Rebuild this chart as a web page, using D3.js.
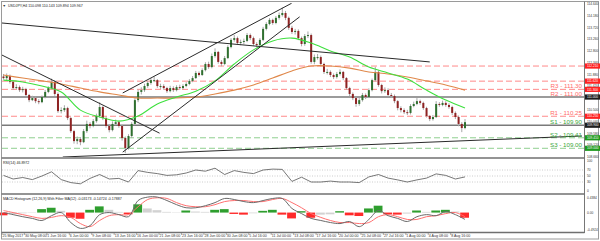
<!DOCTYPE html>
<html lang="en">
<head>
<meta charset="UTF-8" />
<title>USDJPY H4</title>
<script src="https://d3js.org/d3.v7.min.js"></script>
<style>
  body { margin: 0; background: #fff; }
  svg { display: block; font-family: Arial, "Liberation Sans", sans-serif; }
</style>
</head>
<body>
<script>
var w = 600;
var h = 241;

// price bars (each bar here = two 4H bars of the original)
var firstOpen = 111.80;
var closes = [
  111.74, 111.82, 111.59, 111.35, 111.39, 111.27, 111.31, 111.08, 110.88, 110.96,
  110.84, 110.80, 111.00, 111.20, 111.35, 111.59, 111.12, 110.45, 110.49, 110.57,
  110.18, 109.67, 109.28, 109.36, 109.24, 109.67, 109.95, 109.87, 110.06, 110.26,
  110.61, 110.18, 109.87, 109.71, 109.95, 110.02, 109.87, 109.40, 109.01, 109.48,
  109.95, 110.88, 111.20, 111.27, 111.43, 111.55, 111.66, 111.66, 111.43, 111.43,
  111.35, 111.23, 111.35, 111.27, 111.39, 111.35, 111.43, 111.51, 111.63, 111.74,
  111.94, 111.86, 112.05, 112.29, 112.17, 112.60, 112.76, 112.37, 112.29, 112.52,
  112.95, 113.23, 113.30, 113.11, 113.15, 113.19, 113.42, 113.30, 113.07, 113.03,
  113.23, 113.66, 113.85, 114.01, 113.89, 114.09, 114.20, 114.28, 114.09, 113.70,
  113.54, 113.58, 113.30, 113.07, 113.38, 113.42, 112.37, 112.56, 112.56, 112.29,
  111.98, 111.98, 111.86, 111.78, 111.90, 111.98, 111.74, 111.35, 111.12, 110.96,
  110.73, 110.88, 111.08, 111.00, 111.27, 111.66, 111.98, 111.47, 111.23, 111.27,
  111.08, 111.04, 110.84, 110.57, 110.49, 110.41, 110.38, 110.65, 110.73, 110.84,
  110.77, 110.57, 110.26, 110.14, 110.22, 110.73, 110.69, 110.77, 110.69, 110.61,
  110.38, 110.22, 109.95, 109.79, 110.02
];
var highs = [
  111.90, 111.92, 111.88, 111.64, 111.50, 111.45, 111.40, 111.36, 111.12, 111.05,
  111.02, 110.92, 111.06, 111.28, 111.42, 111.72, 111.66, 111.18, 110.60, 110.68,
  110.62, 110.22, 109.72, 109.46, 109.44, 109.75, 110.08, 110.02, 110.14, 110.35,
  110.80, 110.66, 110.24, 109.94, 110.05, 110.12, 110.08, 109.92, 109.46, 109.55,
  110.02, 110.95, 111.30, 111.38, 111.52, 111.62, 111.74, 111.80, 111.70, 111.52,
  111.50, 111.40, 111.44, 111.42, 111.46, 111.48, 111.50, 111.58, 111.70, 111.82,
  112.02, 112.00, 112.12, 112.36, 112.38, 112.70, 112.90, 112.80, 112.44, 112.60,
  113.02, 113.30, 113.42, 113.36, 113.24, 113.28, 113.50, 113.48, 113.36, 113.14,
  113.30, 113.74, 113.92, 114.08, 114.06, 114.16, 114.30, 114.49, 114.36, 114.14,
  113.78, 113.66, 113.64, 113.36, 113.46, 113.56, 113.48, 112.66, 112.68, 112.62,
  112.34, 112.10, 112.04, 111.92, 111.98, 112.08, 112.02, 111.78, 111.40, 111.18,
  111.00, 110.96, 111.16, 111.14, 111.34, 111.72, 112.18, 112.04, 111.52, 111.38,
  111.34, 111.16, 111.10, 110.88, 110.64, 110.56, 110.50, 110.72, 110.82, 110.96,
  110.90, 110.82, 110.62, 110.30, 110.30, 110.84, 110.80, 110.86, 110.84, 110.76,
  110.66, 110.44, 110.28, 110.02, 110.14
];
var lows = [
  111.68, 111.66, 111.52, 111.28, 111.30, 111.20, 111.18, 111.02, 110.80, 110.84,
  110.76, 110.72, 110.76, 110.95, 111.15, 111.30, 111.05, 110.38, 110.36, 110.42,
  110.10, 109.60, 109.18, 109.16, 109.12, 109.20, 109.60, 109.78, 109.82, 110.00,
  110.20, 110.10, 109.80, 109.62, 109.66, 109.90, 109.80, 109.30, 108.81, 108.95,
  109.40, 109.90, 110.80, 111.10, 111.20, 111.36, 111.48, 111.58, 111.36, 111.32,
  111.28, 111.16, 111.18, 111.20, 111.22, 111.28, 111.30, 111.38, 111.46, 111.58,
  111.70, 111.80, 111.82, 112.00, 112.10, 112.12, 112.54, 112.30, 112.20, 112.24,
  112.48, 112.90, 113.16, 113.04, 113.02, 113.06, 113.14, 113.22, 113.00, 112.94,
  112.98, 113.18, 113.60, 113.80, 113.82, 113.84, 114.02, 114.14, 114.00, 113.62,
  113.46, 113.44, 113.22, 112.98, 113.00, 113.30, 112.30, 112.28, 112.46, 112.20,
  111.90, 111.88, 111.78, 111.70, 111.72, 111.84, 111.66, 111.28, 111.04, 110.88,
  110.62, 110.66, 110.82, 110.92, 110.96, 111.22, 111.60, 111.40, 111.14, 111.16,
  111.00, 110.96, 110.76, 110.48, 110.40, 110.34, 110.30, 110.32, 110.60, 110.68,
  110.70, 110.50, 110.20, 110.06, 110.08, 110.18, 110.62, 110.64, 110.62, 110.54,
  110.30, 110.14, 109.86, 109.63, 109.74
];

// moving averages, one value every maStep bars
var maStep = 6;
var maGreen = [111.66, 111.59, 111.43, 111.20, 110.49, 110.22, 110.06, 110.26, 110.73, 111.00,
  111.23, 111.63, 112.29, 112.84, 113.19, 113.30, 113.11, 112.80, 112.56, 112.17,
  111.94, 111.70, 111.27, 110.88, 110.57];
var maOrange = [111.86, 111.74, 111.63, 111.51, 111.35, 111.20, 111.08, 110.96, 110.96, 110.96,
  111.00, 111.12, 111.27, 111.47, 111.74, 112.02, 112.21, 112.21, 112.13, 111.98,
  111.90, 111.78, 111.63, 111.47, 111.27];

// oscillators, one value every oscStep bars
var oscStep = 3;
var rsi = [52, 40, 45, 38, 50, 64, 38, 28, 24, 42, 55, 40, 42, 30, 68, 62, 58, 52, 54, 60,
  70, 66, 76, 55, 68, 62, 58, 70, 73, 72, 32, 46, 30, 30, 33, 30, 30, 28, 47, 55,
  43, 37, 30, 37, 43, 57, 52, 40, 47];
var macd = [0.00, -0.06, -0.12, -0.17, -0.23, -0.09, 0.00, -0.29, -0.46, -0.38,
  -0.06, 0.00, -0.06, -0.12, 0.35, 0.45, 0.45, 0.35, 0.23, 0.14,
  0.14, 0.20, 0.29, 0.41, 0.38, 0.32, 0.29, 0.35, 0.41, 0.41,
  0.12, -0.03, -0.17, -0.23, -0.29, -0.32, -0.26, -0.41, -0.20, 0.06,
  -0.09, -0.17, -0.26, -0.12, -0.06, -0.09, 0.03, -0.06, -0.20];
var signal = [0.06, 0.00, -0.06, -0.12, -0.17, -0.14, -0.09, -0.14, -0.32, -0.41,
  -0.23, -0.09, -0.06, -0.06, 0.17, 0.38, 0.43, 0.41, 0.29, 0.20,
  0.17, 0.17, 0.23, 0.32, 0.35, 0.35, 0.32, 0.32, 0.38, 0.41,
  0.29, 0.14, -0.03, -0.14, -0.23, -0.29, -0.29, -0.32, -0.29, -0.12,
  -0.06, -0.12, -0.20, -0.20, -0.12, -0.09, -0.03, 0.00, -0.12];
var hist = [-0.08, -0.04, -0.02, -0.01, 0.10, 0.14, 0.05, -0.15, -0.18, 0.08,
  0.18, 0.08, 0.02, -0.05, 0.24, 0.12, 0.07, 0.02, 0.01, 0.06,
  0.03, 0.02, 0.08, 0.10, -0.04, -0.06, -0.02, 0.05, 0.08, -0.06,
  -0.17, 0.04, -0.15, -0.06, -0.05, 0.04, -0.08, -0.10, 0.12, 0.20,
  -0.05, -0.06, -0.03, 0.06, 0.02, 0.06, 0.08, 0.03, -0.15];

// time axis: one label every 7 bars
var labelStep = 7;
var dateLabels = ["25 May 2017", "30 May 08:00", "1 Jun 16:00", "6 Jun 00:00", "9 Jun 08:00",
  "13 Jun 16:00", "16 Jun 00:00", "21 Jun 08:00", "23 Jun 16:00", "28 Jun 00:00",
  "30 Jun 08:00", "5 Jul 16:00", "11 Jul 00:00", "13 Jul 08:00", "17 Jul 16:00",
  "20 Jul 00:00", "25 Jul 08:00", "27 Jul 16:00", "1 Aug 00:00", "4 Aug 08:00", "8 Aug 16:00"];

// price axis
var priceTicks = [114.64, 114.18, 113.72, 113.26, 112.80, 112.34, 111.88, 111.42,
  110.96, 110.50, 110.04, 109.58, 109.12, 108.66];
var rsiTicks = [100, 70, 50, 30, 0];
var rsiLevels = [70, 50, 30];
var macdTicks = [0.4384, 0, -0.4924];
var macdTickText = ["0.4384", "0.00", "-0.4924"];

// support / resistance levels
var levelPrices = [112.21, 111.62, 111.30, 111.00, 110.25, 109.90, 109.41, 109.00];
var levelNames = ["", "", "R3 - 111.30", "R2 - 111.00", "R1 - 110.25", "S1 - 109.90", "S2 - 109.41", "S3 - 109.00"];
var levelKinds = ["res", "res", "res", "pivot", "res", "pivot", "sup", "sup"];

// trend lines: [bar, price, bar, price]
var trendLines = [
  [-0.5, 113.89, 133, 112.37],
  [-0.5, 112.64, 48.7, 109.59],
  [37.2, 108.85, 92.4, 114.13],
  [37.2, 111.16, 89.9, 114.66],
  [18.5, 108.66, 180.5, 109.48]
];

var titleText = "USDJPY,H4  110.098 110.143 109.894 109.967";
var rsiTitle = "RSI(14) 46.8972";
var macdTitle = "MACD Histogram (12,26,9) With Filter MA(12) -0.03173 -0.14724 -0.17887";

var svg = d3.select("body").append("svg")
    .attr("width", w)
    .attr("height", h);

// Scales
var xScale = d3.scaleLinear().domain([0, closes.length - 1]).range([3.5, 465]);
var yScale = d3.scaleLinear().domain([108.66, 114.67]).range([157, 3]);
var rsiScale = d3.scaleLinear().domain([0, 100]).range([191, 161]);
var macdScale = d3.scaleLinear().domain([-0.4924, 0.4384]).range([229.5, 197.5]);
var barW = xScale(1) - xScale(0);

svg.append("defs").append("clipPath").attr("id", "mainClip")
    .append("rect").attr("x", 2).attr("y", 3).attr("width", 582).attr("height", 154);

var main = svg.append("g").attr("clip-path", "url(#mainClip)");

// Level lines
var levelColor = { res: "#ff8a8a", pivot: "#7a7a7a", sup: "#8fcf8f" };
main.selectAll("line.level")
    .data(levelPrices)
    .enter()
    .append("line")
    .attr("x1", 2)
    .attr("x2", 584)
    .attr("y1", function(d) { return yScale(d); })
    .attr("y2", function(d) { return yScale(d); })
    .attr("stroke", function(d, i) { return levelColor[levelKinds[i]]; })
    .attr("stroke-width", function(d, i) { return levelKinds[i] == "pivot" ? 1.6 : 1; })
    .attr("stroke-dasharray", function(d, i) { return levelKinds[i] == "pivot" ? null : "6,3"; });

// Candles
var bars = main.selectAll("g.bar")
    .data(closes)
    .enter()
    .append("g");

bars.append("line")
    .attr("x1", function(d, i) { return xScale(i); })
    .attr("x2", function(d, i) { return xScale(i); })
    .attr("y1", function(d, i) { return yScale(highs[i]); })
    .attr("y2", function(d, i) { return yScale(lows[i]); })
    .attr("stroke", "#a8a8a8")
    .attr("stroke-width", 1);

bars.append("rect")
    .attr("x", function(d, i) { return xScale(i) - 1; })
    .attr("width", 2)
    .attr("y", function(d, i) {
        var o = i == 0 ? firstOpen : closes[i - 1];
        return yScale(Math.max(o, d));
    })
    .attr("height", function(d, i) {
        var o = i == 0 ? firstOpen : closes[i - 1];
        return Math.max(1, Math.abs(yScale(o) - yScale(d)));
    })
    .attr("fill", function(d, i) {
        var o = i == 0 ? firstOpen : closes[i - 1];
        return d >= o ? "#2f6f2f" : "#8e2323";
    });

// Moving averages
var maLine = d3.line()
    .x(function(d, i) { return xScale(i * maStep); })
    .y(function(d) { return yScale(d); })
    .curve(d3.curveCatmullRom);

main.append("path").datum(maOrange)
    .attr("d", maLine)
    .attr("fill", "none")
    .attr("stroke", "#e0884a")
    .attr("stroke-width", 1.1);

main.append("path").datum(maGreen)
    .attr("d", maLine)
    .attr("fill", "none")
    .attr("stroke", "#3ee03e")
    .attr("stroke-width", 1.1);

// Trend lines
main.selectAll("line.trend")
    .data(trendLines)
    .enter()
    .append("line")
    .attr("x1", function(d) { return xScale(d[0]); })
    .attr("y1", function(d) { return yScale(d[1]); })
    .attr("x2", function(d) { return xScale(d[2]); })
    .attr("y2", function(d) { return yScale(d[3]); })
    .attr("stroke", "#2a2a2a")
    .attr("stroke-width", 1);

// Level labels
svg.selectAll("text.level")
    .data(levelPrices)
    .enter()
    .append("text")
    .text(function(d, i) { return levelNames[i]; })
    .attr("x", 582)
    .attr("y", function(d) { return yScale(d) - 1.2; })
    .attr("text-anchor", "end")
    .attr("font-size", 6.2)
    .attr("fill", function(d, i) { return levelNames[i].charAt(0) == "S" ? "#3aa63a" : "#ff6b6b"; });

// Title
svg.append("text").text("\u25BC")
    .attr("x", 2.5).attr("y", 6.5)
    .attr("font-size", 3.5).attr("fill", "#333");
svg.append("text").text(titleText)
    .attr("x", 8).attr("y", 6.5)
    .attr("font-size", 3.6).attr("fill", "#222");

// RSI panel
svg.selectAll("line.rsiLevel")
    .data(rsiLevels)
    .enter()
    .append("line")
    .attr("x1", 2).attr("x2", 584)
    .attr("y1", function(d) { return rsiScale(d); })
    .attr("y2", function(d) { return rsiScale(d); })
    .attr("stroke", "#b8b8b8")
    .attr("stroke-width", 0.7)
    .attr("stroke-dasharray", "1,1.5");

var rsiLine = d3.line()
    .x(function(d, i) { return xScale(i * oscStep); })
    .y(function(d) { return rsiScale(d); });

svg.append("path").datum(rsi)
    .attr("d", rsiLine)
    .attr("fill", "none")
    .attr("stroke", "#555")
    .attr("stroke-width", 0.8);

svg.append("text").text(rsiTitle)
    .attr("x", 3).attr("y", 164)
    .attr("font-size", 3.6).attr("fill", "#222");

// MACD panel
svg.selectAll("rect.hist")
    .data(hist)
    .enter()
    .append("rect")
    .attr("x", function(d, i) { return xScale(i * oscStep) - barW * 1.5; })
    .attr("width", barW * oscStep - 0.8)
    .attr("y", function(d) { return macdScale(Math.max(0, d)); })
    .attr("height", function(d) { return Math.abs(macdScale(d) - macdScale(0)); })
    .attr("fill", function(d, i) {
        var prev = i == 0 ? 0 : hist[i - 1];
        if (d > 0 && d >= prev) return "#2e9e2e";
        if (d < 0 && d <= prev) return "#ff2a2a";
        return "#d2d2d2";
    });

var macdLine = d3.line()
    .x(function(d, i) { return xScale(i * oscStep); })
    .y(function(d) { return macdScale(d); })
    .curve(d3.curveCatmullRom);

svg.append("path").datum(signal)
    .attr("d", macdLine)
    .attr("fill", "none")
    .attr("stroke", "#ff7070")
    .attr("stroke-width", 1);

svg.append("path").datum(macd)
    .attr("d", macdLine)
    .attr("fill", "none")
    .attr("stroke", "#6a6a6a")
    .attr("stroke-width", 1);

svg.append("text").text(macdTitle)
    .attr("x", 3).attr("y", 200)
    .attr("font-size", 3.6).attr("fill", "#222");

// Frames
var frame = svg.append("g").attr("fill", "none");
frame.append("rect").attr("x", 1.5).attr("y", 1.5).attr("width", 597).attr("height", 237.5)
    .attr("stroke", "#9a9a9a").attr("stroke-width", 1);
frame.append("line").attr("x1", 584.5).attr("x2", 584.5).attr("y1", 1.5).attr("y2", 233)
    .attr("stroke", "#777").attr("stroke-width", 1);
[158, 194, 232.5].forEach(function(y) {
    frame.append("line").attr("x1", 1.5).attr("x2", 584.5).attr("y1", y).attr("y2", y)
        .attr("stroke", "#707070").attr("stroke-width", 1.4);
});

// Price axis
svg.selectAll("text.ptick")
    .data(priceTicks)
    .enter()
    .append("text")
    .text(function(d) { return d.toFixed(3); })
    .attr("x", 587)
    .attr("y", function(d) { return yScale(d) + 1.2; })
    .attr("font-size", 3.2)
    .attr("fill", "#333");

var boxColor = { res: "#ff2020", pivot: "#1e1e1e", sup: "#1f9a1f" };
var boxes = svg.selectAll("g.box")
    .data(levelPrices)
    .enter()
    .append("g");
boxes.append("rect")
    .attr("x", 585)
    .attr("y", function(d) { return yScale(d) - 2.6; })
    .attr("width", 15)
    .attr("height", 5.2)
    .attr("fill", function(d, i) { return boxColor[levelKinds[i]]; });
boxes.append("text")
    .text(function(d) { return d.toFixed(3); })
    .attr("x", 587)
    .attr("y", function(d) { return yScale(d) + 1.2; })
    .attr("font-size", 3.2)
    .attr("fill", "#fff");

svg.selectAll("text.rtick")
    .data(rsiTicks)
    .enter()
    .append("text")
    .text(function(d) { return d; })
    .attr("x", 587)
    .attr("y", function(d) { return rsiScale(d) + 1.2; })
    .attr("font-size", 3.2)
    .attr("fill", "#333");

svg.selectAll("text.mtick")
    .data(macdTicks)
    .enter()
    .append("text")
    .text(function(d, i) { return macdTickText[i]; })
    .attr("x", 587)
    .attr("y", function(d) { return macdScale(d) + 1.2; })
    .attr("font-size", 3.2)
    .attr("fill", "#333");

// Time axis
svg.selectAll("line.dtick")
    .data(dateLabels)
    .enter()
    .append("line")
    .attr("x1", function(d, i) { return xScale(i * labelStep) - 1.5; })
    .attr("x2", function(d, i) { return xScale(i * labelStep) - 1.5; })
    .attr("y1", 233)
    .attr("y2", 235)
    .attr("stroke", "#777")
    .attr("stroke-width", 0.6);

svg.selectAll("text.date")
    .data(dateLabels)
    .enter()
    .append("text")
    .text(function(d) { return d; })
    .attr("x", function(d, i) { return xScale(i * labelStep) - 1; })
    .attr("y", 237.2)
    .attr("font-size", 3.6)
    .attr("fill", "#333");
</script>
</body>
</html>
